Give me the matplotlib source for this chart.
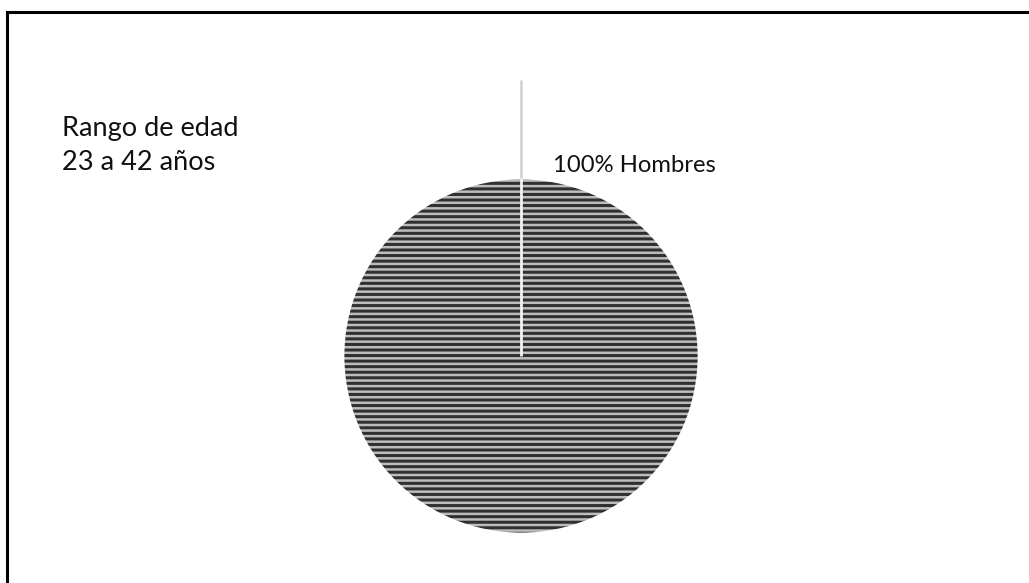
import matplotlib
matplotlib.use("Agg")
import matplotlib.pyplot as plt
from matplotlib.patches import Rectangle

plt.rcParams['font.family'] = ['Lato', 'DejaVu Sans']
plt.rcParams['hatch.linewidth'] = 1.8

labels = ["Hombres"]
shares = [100]
note_lines = ["Rango de edad", "23 a 42 años"]

fig = plt.figure(figsize=(10.29, 5.83), dpi=100)
ax = fig.add_axes([0, 0, 1, 1])
ax.set_aspect('equal')
ax.axis('off')

# striped fill, then a white outline on top
ax.pie(shares, startangle=90, counterclock=False, radius=1,
       colors=['#303030'],
       wedgeprops={'edgecolor': '#bdbdbd', 'linewidth': 0, 'hatch': '---'})
ax.pie(shares, startangle=90, counterclock=False, radius=1,
       wedgeprops={'fill': False, 'edgecolor': 'white', 'linewidth': 2})
# the wedge's radial edge
ax.plot([0, 0], [0, 1], color='#f2f2f2', lw=2, solid_capstyle='butt')

# leader line and label
ax.plot([0, 0], [1, 1.55], color='#d4d4d4', lw=2, solid_capstyle='butt')
ax.text(0.18, 1.07, f"{shares[0]}% {labels[0]}", fontsize=17.2,
        ha='left', va='center', color='#111111')

ax.text(-2.58, 1.18, "\n".join(note_lines), fontsize=19.5, ha='left',
        va='center', color='#111111', linespacing=1.45)

ax.set_xlim(-521 / 178, (1029 - 521) / 178)
ax.set_ylim(-227 / 178, 356 / 178)

# outer frame
fig.patches.append(Rectangle((7 / 1029, -0.1), 1.2, 1.1 - 12 / 583,
                             transform=fig.transFigure, fill=False,
                             edgecolor='black', linewidth=2.2))

fig.savefig("out.png", dpi=100)
